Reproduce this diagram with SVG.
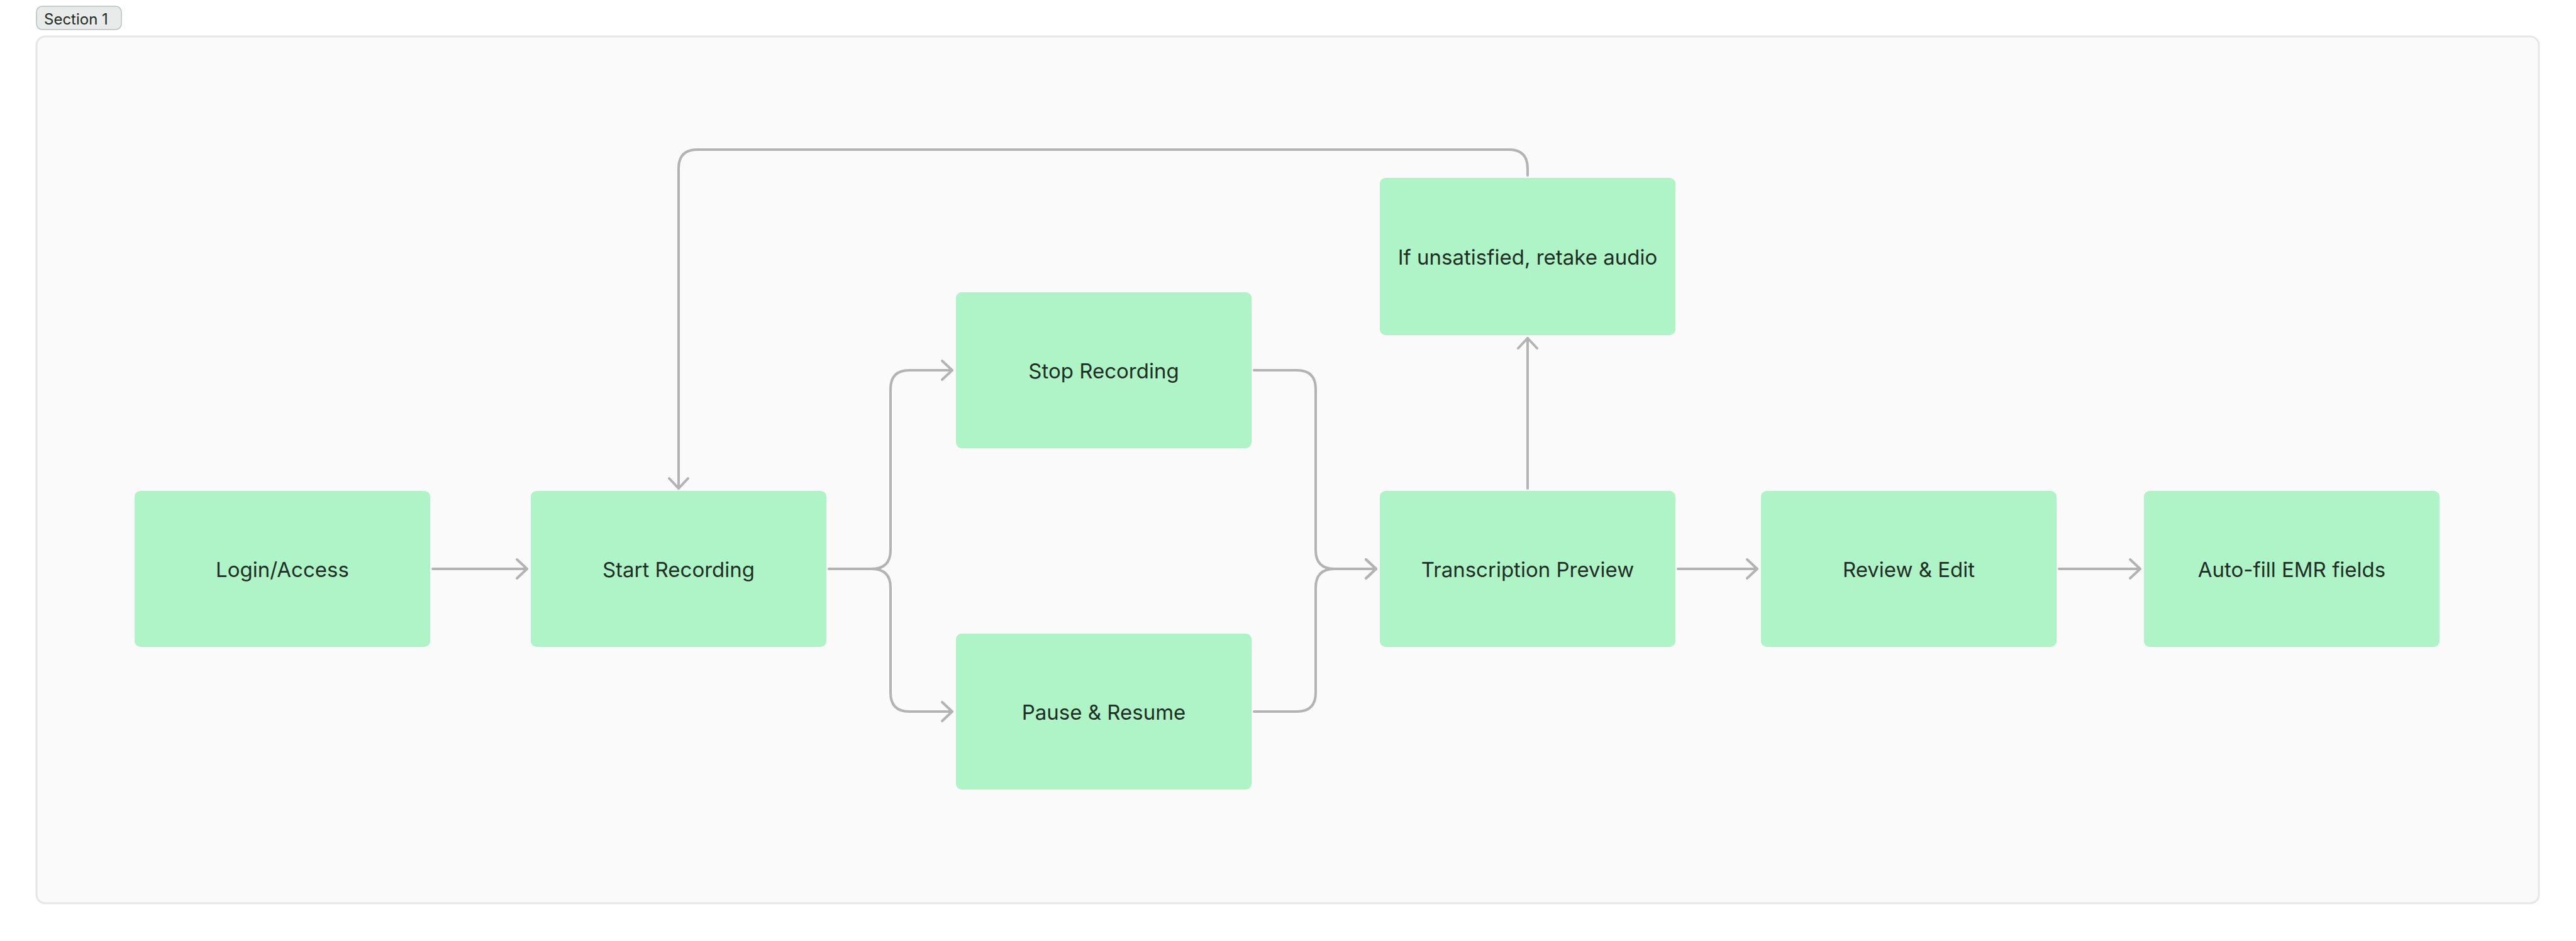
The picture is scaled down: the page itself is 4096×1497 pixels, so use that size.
<svg xmlns="http://www.w3.org/2000/svg" width="4096" height="1497" viewBox="0 0 4096 1497">
<defs>
<style>
.node rect{fill:#aff4c6;}
.node text{font-family:Inter,"Noto Sans","Liberation Sans",sans-serif;font-size:33px;fill:#1e2e24;text-anchor:middle;}
.conn path{fill:none;stroke:#b3b3b3;stroke-width:4;stroke-linecap:round;stroke-linejoin:round;}
</style>
<marker id="arr" markerUnits="userSpaceOnUse" markerWidth="40" markerHeight="40" viewBox="-20 -20 40 40" refX="0" refY="0" orient="auto" overflow="visible">
<path d="M-16,-15 L0,0 L-16,15" fill="none" stroke="#b3b3b3" stroke-width="4" stroke-linecap="round" stroke-linejoin="round"/>
</marker>
</defs>
<rect x="0" y="0" width="4096" height="1497" fill="#ffffff"/>
<g id="section">
<rect x="58" y="58" width="3979" height="1379" rx="14" fill="#fafafa" stroke="#e6e6e6" stroke-width="3"/>
<rect x="58" y="10" width="135" height="37" rx="9" fill="#e8ebe9" stroke="#b8c2bc" stroke-width="1.5"/>
<text x="70" y="39" font-family="Inter,'Noto Sans','Liberation Sans',sans-serif" font-size="24" fill="#1e2b22">Section 1</text>
</g>
<g class="conn" id="connectors">
<path d="M688 905 H838" marker-end="url(#arr)"/>
<path d="M1318 905 H1386 Q1416 905 1416 875 V619 Q1416 589 1446 589 H1514" marker-end="url(#arr)"/>
<path d="M1318 905 H1386 Q1416 905 1416 935 V1102 Q1416 1132 1446 1132 H1514" marker-end="url(#arr)"/>
<path d="M1994 589 H2062 Q2092 589 2092 619 V875 Q2092 905 2122 905 H2188" marker-end="url(#arr)"/>
<path d="M1994 1132 H2062 Q2092 1132 2092 1102 V935 Q2092 905 2122 905 H2188" marker-end="url(#arr)"/>
<path d="M2429 777 V538" marker-end="url(#arr)"/>
<path d="M2429 279 V268 Q2429 238 2399 238 H1109 Q1079 238 1079 268 V777" marker-end="url(#arr)"/>
<path d="M2668 905 H2794" marker-end="url(#arr)"/>
<path d="M3274 905 H3403" marker-end="url(#arr)"/>
</g>
<g class="node" id="login"><rect x="214" y="781" width="470" height="248" rx="9"/><text x="449" y="918">Login/Access</text></g>
<g class="node" id="start"><rect x="844" y="781" width="470" height="248" rx="9"/><text x="1079" y="918">Start Recording</text></g>
<g class="node" id="stop"><rect x="1520" y="465" width="470" height="248" rx="9"/><text x="1755" y="602">Stop Recording</text></g>
<g class="node" id="pause"><rect x="1520" y="1008" width="470" height="248" rx="9"/><text x="1755" y="1145">Pause &amp; Resume</text></g>
<g class="node" id="retake"><rect x="2194" y="283" width="470" height="250" rx="9"/><text x="2429" y="421">If unsatisfied, retake audio</text></g>
<g class="node" id="preview"><rect x="2194" y="781" width="470" height="248" rx="9"/><text x="2429" y="918">Transcription Preview</text></g>
<g class="node" id="review"><rect x="2800" y="781" width="470" height="248" rx="9"/><text x="3035" y="918">Review &amp; Edit</text></g>
<g class="node" id="autofill"><rect x="3409" y="781" width="470" height="248" rx="9"/><text x="3644" y="918">Auto-fill EMR fields</text></g>
</svg>
